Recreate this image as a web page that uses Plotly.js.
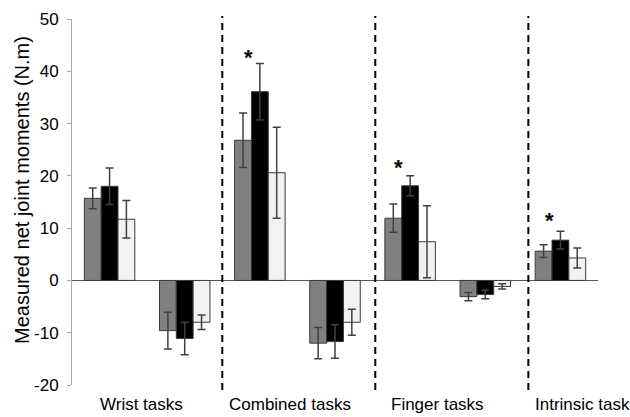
<!DOCTYPE html>
<html>
<head>
<meta charset="utf-8">
<script src="https://cdn.plot.ly/plotly-3.0.1.min.js"></script>
<style>html,body{margin:0;padding:0;background:#fff;}#chart{width:630px;height:417px;}</style>
</head>
<body>
<div id="chart"></div>
<script>
// Sub-group positions (two per task group, one for Intrinsic)
var positions = [0, 1, 2, 3, 4, 5, 6];
var groupLabels = ['Wrist tasks', 'Combined tasks', 'Finger tasks', 'Intrinsic task'];
var yTickVals = [-20, -10, 0, 10, 20, 30, 40, 50];
var yTickText = ['-20', '-10', '0', '10', '20', '30', '40', '50'];

var grayVals  = [15.7, -9.6, 26.8, -12.0, 11.9, -3.1, 5.6];
var grayErr   = [2.0, 3.5, 5.2, 3.0, 2.7, 0.8, 1.2];
var blackVals = [18.0, -11.1, 36.1, -11.7, 18.1, -2.7, 7.7];
var blackErr  = [3.5, 3.1, 5.4, 3.2, 1.9, 0.8, 1.7];
var whiteVals = [11.7, -8.0, 20.6, -8.0, 7.4, -1.15, 4.3];
var whiteErr  = [3.6, 1.4, 8.7, 2.5, 6.9, 0.5, 1.9];

// significance markers
var starPos = [2, 4, 6];
var starY   = [43.5, 22.6, 12.4];

// separators between task groups
var separators = [1.5, 3.536, 5.573];

var labelPos = [0.43, 2.4, 4.37, 6.3];

var FONT = 'Liberation Sans, Arial, sans-serif';

function barTrace(vals, err, color) {
  return {
    type: 'bar', x: positions, y: vals,
    marker: {color: color, line: {color: '#3a3a3a', width: 1}},
    error_y: {type: 'data', array: err, visible: true, color: '#404040', thickness: 1.5, width: 4},
    hoverinfo: 'y', showlegend: false
  };
}

var data = [
  barTrace(grayVals, grayErr, '#808080'),
  barTrace(blackVals, blackErr, '#000000'),
  barTrace(whiteVals, whiteErr, '#f2f2f2')
];

var shapes = separators.map(function (s) {
  return {type: 'line', xref: 'x', yref: 'paper', x0: s, x1: s, y0: -0.014, y1: 1.008,
          line: {color: '#000', width: 2, dash: '7px,5px'}};
});

var annotations = starPos.map(function (p, i) {
  return {x: p - 0.15, y: starY[i], xref: 'x', yref: 'y', yshift: -5, text: '<b>*</b>', showarrow: false,
          font: {family: FONT, size: 22, color: '#000'}};
});
groupLabels.forEach(function (lab, i) {
  annotations.push({x: labelPos[i], y: -0.0546, xref: 'x', yref: 'paper', xanchor: 'center', yanchor: 'middle',
    text: lab, showarrow: false, font: {family: FONT, size: 17, color: '#000'}});
});
annotations.push({
  xref: 'paper', yref: 'paper', x: -0.095, y: 0.533, xanchor: 'center', yanchor: 'middle',
  text: 'Measured net joint moments (N.m)', textangle: -90, showarrow: false,
  font: {family: FONT, size: 20, color: '#000'}
});

var layout = {
  width: 630, height: 417,
  margin: {l: 72, r: 32, t: 19, b: 32},
  paper_bgcolor: '#fff', plot_bgcolor: '#fff',
  barmode: 'group', bargap: 0.328, bargroupgap: 0,
  font: {family: FONT, color: '#000'},
  xaxis: {
    type: 'linear', range: [-0.5, 6.5], showgrid: false, zeroline: false, showline: false,
    ticks: '', showticklabels: false
  },
  yaxis: {
    range: [-20, 50], tickvals: yTickVals, ticktext: yTickText, showgrid: false,
    zeroline: true, zerolinecolor: '#595959', zerolinewidth: 1,
    showline: true, linecolor: '#a6a6a6', linewidth: 1,
    ticks: 'outside', ticklen: 4, tickcolor: '#a6a6a6',
    tickfont: {size: 17, color: '#000'}, ticklabelstandoff: 5
  },
  shapes: shapes,
  annotations: annotations
};

Plotly.newPlot('chart', data, layout, {displayModeBar: false, staticPlot: true});
</script>
</body>
</html>
